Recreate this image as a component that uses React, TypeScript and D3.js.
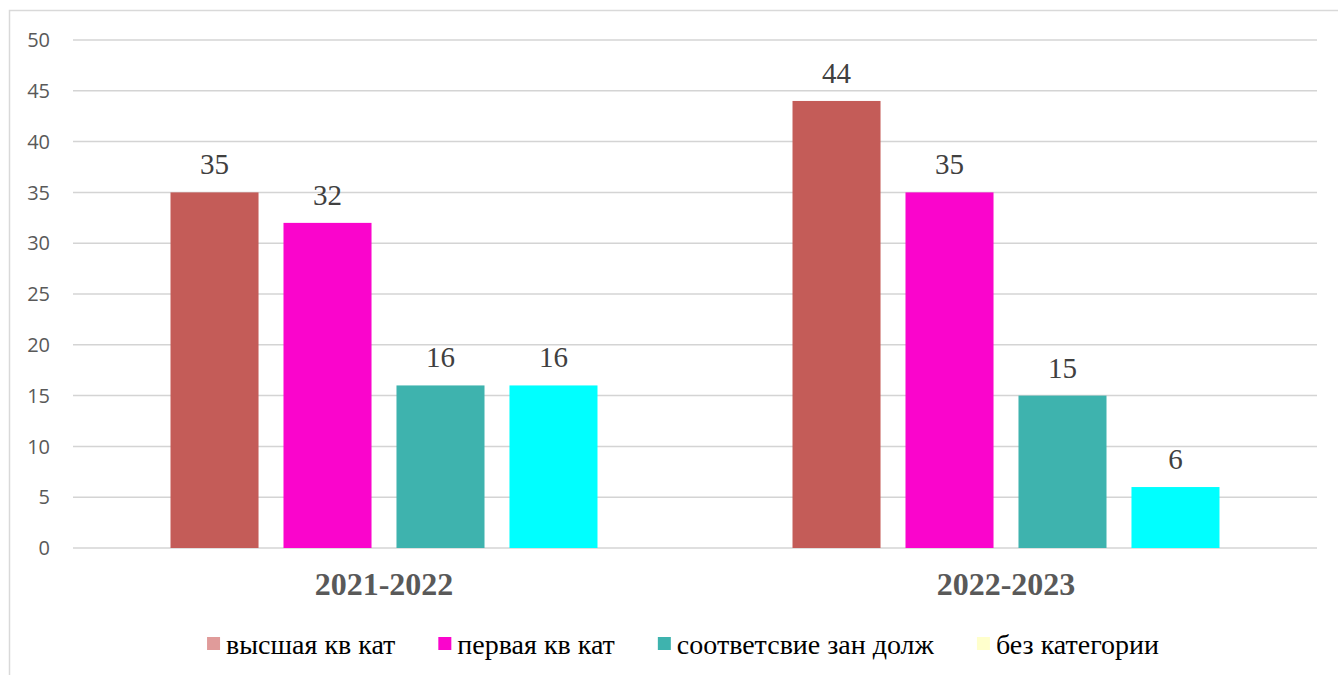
import React, { useEffect, useRef } from 'react';
import * as d3 from 'd3';

// Chart data
const years = ['2021-2022', '2022-2023'];
const seriesNames = ['высшая кв кат', 'первая кв кат', 'соответсвие зан долж', 'без категории'];
const seriesValues = [
  [35, 44],
  [32, 35],
  [16, 15],
  [16, 6],
];
const barColors = ['#c45c58', '#fa05cc', '#3eb3ae', '#00ffff'];
const legendColors = ['#e09b9a', '#fa05cc', '#3eb3ae', '#ffffcc'];
const yTicks = [0, 5, 10, 15, 20, 25, 30, 35, 40, 45, 50];

const W = 1338;
const H = 675;

export default function App() {
  const svgRef = useRef<SVGSVGElement>(null);

  useEffect(() => {
    if (!svgRef.current) return;
    const svg = d3.select(svgRef.current);
    svg.selectAll('*').remove();

    const plot = { left: 73, right: 1317, top: 40, bottom: 548 };

    // chart frame
    svg.append('rect')
      .attr('x', 9.5).attr('y', 10.5)
      .attr('width', W + 20).attr('height', H + 20)
      .attr('fill', 'none')
      .attr('stroke', '#d9d9d9')
      .attr('stroke-width', 1.5);

    const y = d3.scaleLinear().domain([0, 50]).range([plot.bottom, plot.top]);
    const x0 = d3.scaleBand<string>().domain(years).range([plot.left, plot.right]);
    const x1 = d3.scaleBand<number>()
      .domain(d3.range(seriesNames.length))
      .range([0, x0.bandwidth()])
      .paddingInner(0.221)
      .paddingOuter(0.863);

    // gridlines + tick labels
    const yAxis = svg.append('g');
    yAxis.selectAll('line')
      .data(yTicks)
      .join('line')
      .attr('x1', plot.left).attr('x2', plot.right)
      .attr('y1', d => y(d)).attr('y2', d => y(d))
      .attr('stroke', '#d4d4d4')
      .attr('stroke-width', 1.5);
    yAxis.selectAll('text')
      .data(yTicks)
      .join('text')
      .attr('x', 50)
      .attr('y', d => y(d))
      .attr('dy', '0.36em')
      .attr('text-anchor', 'end')
      .attr('font-family', '"Open Sans", sans-serif')
      .attr('font-size', 20)
      .attr('fill', '#595959')
      .text(d => d);

    // bars
    const groups = svg.append('g')
      .selectAll('g')
      .data(years)
      .join('g')
      .attr('transform', d => `translate(${x0(d)},0)`);

    groups.selectAll('rect')
      .data((_, yi) => seriesValues.map((vals, si) => ({ si, v: vals[yi] })))
      .join('rect')
      .attr('x', d => x1(d.si)!)
      .attr('width', x1.bandwidth())
      .attr('y', d => y(d.v))
      .attr('height', d => y(0) - y(d.v))
      .attr('fill', d => barColors[d.si]);

    groups.selectAll('text')
      .data((_, yi) => seriesValues.map((vals, si) => ({ si, v: vals[yi] })))
      .join('text')
      .attr('x', d => x1(d.si)! + x1.bandwidth() / 2)
      .attr('y', d => y(d.v) - 18)
      .attr('text-anchor', 'middle')
      .attr('font-family', '"Liberation Serif", "Times New Roman", serif')
      .attr('font-size', 29)
      .attr('fill', '#404040')
      .text(d => d.v);

    // category labels
    svg.append('g')
      .selectAll('text')
      .data(years)
      .join('text')
      .attr('x', d => x0(d)! + x0.bandwidth() / 2)
      .attr('y', 595)
      .attr('text-anchor', 'middle')
      .attr('font-family', '"Liberation Serif", "Times New Roman", serif')
      .attr('font-weight', 'bold')
      .attr('font-size', 32)
      .attr('fill', '#595959')
      .text(d => d);

    // legend, laid out from measured text widths and centred
    const legend = svg.append('g');
    const items = legend.selectAll('g')
      .data(seriesNames)
      .join('g');
    items.append('rect')
      .attr('width', 13).attr('height', 13)
      .attr('y', 637)
      .attr('fill', (_, i) => legendColors[i]);
    const labels = items.append('text')
      .attr('x', 19)
      .attr('y', 654)
      .attr('font-family', '"Liberation Serif", "Times New Roman", serif')
      .attr('font-size', 28)
      .attr('fill', '#000')
      .text(d => d);

    const widths: number[] = [];
    labels.each(function () {
      widths.push((this as SVGTextElement).getComputedTextLength());
    });
    const gap = 43;
    const itemW = widths.map(w => 19 + w);
    const total = d3.sum(itemW) + gap * (itemW.length - 1);
    let cx = 683 - total / 2;
    items.each(function (_, i) {
      d3.select(this).attr('transform', `translate(${cx},0)`);
      cx += itemW[i] + gap;
    });
  }, []);

  return (
    <svg
      ref={svgRef}
      width={W}
      height={H}
      viewBox={`0 0 ${W} ${H}`}
      style={{ position: 'absolute', left: 0, top: 0, background: '#fff' }}
    />
  );
}
